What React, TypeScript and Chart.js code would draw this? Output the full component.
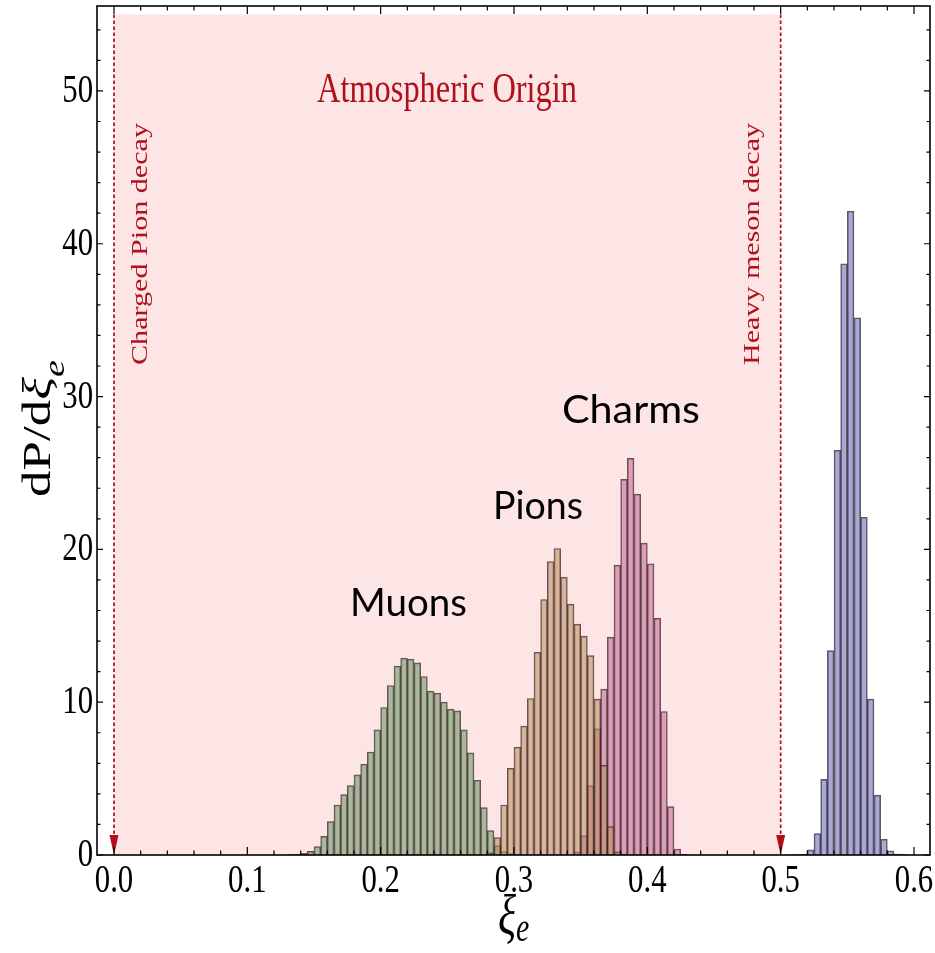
import { useEffect, useRef } from 'react';
import { Chart, registerables } from 'chart.js';

Chart.register(...registerables);

// ---------- data ----------
const BIN_WIDTH = 0.005;

const muonStart = 0.13;
const muonValues = [
  0.03, 0.05, 0.11, 0.24, 0.55, 1.22, 2.18, 3.27, 3.95, 4.54, 5.24, 5.94, 6.74, 8.19,
  9.65, 11.09, 12.36, 12.88, 12.81, 12.57, 11.68, 10.72, 10.59, 10.0, 9.54, 9.43, 8.19,
  6.68, 4.89, 3.1, 1.59, 0.61, 0.22, 0.1, 0.04,
];

const pionStart = 0.28;
const pionValues = [
  0.15, 1.14, 3.27, 5.68, 7.05, 8.43, 10.24, 13.27, 16.72, 19.21, 20.06, 18.18, 16.42,
  15.11, 14.32, 13.05, 10.2, 5.87, 1.86, 0.2, 0.05,
];

const charmStart = 0.345;
const charmValues = [
  0.2, 1.27, 4.54, 8.25, 10.85, 14.26, 18.97, 24.58, 25.96, 23.62, 20.41, 19.06, 15.48,
  9.39, 3.17, 0.39, 0.05,
];

const astroStart = 0.505;
const astroValues = [
  0.01, 0.02, 0.05, 0.34, 1.4, 4.95, 13.37, 26.49, 38.69, 42.13, 35.16, 22.1, 10.21,
  3.92, 1.03, 0.28, 0.06, 0.03,
];

const xTickValues = [0, 0.1, 0.2, 0.3, 0.4, 0.5, 0.6];
const xTickLabels = ['0.0', '0.1', '0.2', '0.3', '0.4', '0.5', '0.6'];
const yTickValues = [0, 10, 20, 30, 40, 50];
const yTickLabels = ['0', '10', '20', '30', '40', '50'];

const X_MIN = -0.01275;
const X_MAX = 0.612;
const Y_MIN = 0;
const Y_MAX = 55.56;

const regionX0 = 0;
const regionX1 = 0.5;
const regionTop = 55;

// ---------- helpers ----------
const toPoints = (start: number, values: number[]) =>
  values.map((v, i) => ({ x: +(start + (i + 0.5) * BIN_WIDTH).toFixed(4), y: v }));

const RED = '#b0101c';
const SERIF = '"Liberation Serif", "Times New Roman", serif';
const SQUEEZE = 0.75;

type Part = { text: string; font: string; dy?: number };

function drawRich(
  ctx: CanvasRenderingContext2D,
  parts: Part[],
  x: number,
  y: number,
  color: string,
  rotated: boolean,
  align: 'left' | 'center' | 'right' = 'left',
  target?: number,
) {
  ctx.save();
  ctx.fillStyle = color;
  ctx.textAlign = 'left';
  ctx.textBaseline = 'alphabetic';
  let total = 0;
  const widths = parts.map((p) => {
    ctx.font = p.font;
    const w = ctx.measureText(p.text).width;
    total += w;
    return w;
  });
  ctx.translate(x, y);
  if (rotated) {
    ctx.rotate(-Math.PI / 2);
    ctx.scale(target ? target / total : 1, SQUEEZE);
  } else {
    ctx.scale(target ? target / total : SQUEEZE, 1);
  }
  let cx = align === 'center' ? -total / 2 : align === 'right' ? -total : 0;
  parts.forEach((p, i) => {
    ctx.font = p.font;
    ctx.fillText(p.text, cx, p.dy || 0);
    cx += widths[i];
  });
  ctx.restore();
}

const decorPlugin = {
  id: 'decor',
  beforeDatasetsDraw(chart: any) {
    const { ctx, scales } = chart;
    const x = scales.x;
    const y = scales.y;
    const l = x.getPixelForValue(regionX0);
    const r = x.getPixelForValue(regionX1);
    const t = y.getPixelForValue(regionTop);
    const b = y.getPixelForValue(0);
    ctx.save();
    ctx.fillStyle = '#fde4e5';
    ctx.fillRect(l, t, r - l, b - t);
    ctx.restore();
  },
  afterDatasetsDraw(chart: any) {
    const { ctx, scales, chartArea } = chart;
    const x = scales.x;
    const y = scales.y;
    const t = y.getPixelForValue(regionTop);
    const b = y.getPixelForValue(0);

    // dashed lines with arrows
    [regionX0, regionX1].forEach((v) => {
      const px = x.getPixelForValue(v);
      ctx.save();
      ctx.strokeStyle = RED;
      ctx.lineWidth = 1.7;
      ctx.setLineDash([3.5, 2.5]);
      ctx.beginPath();
      ctx.moveTo(px, t);
      ctx.lineTo(px, b - 16);
      ctx.stroke();
      ctx.setLineDash([]);
      ctx.fillStyle = RED;
      ctx.beginPath();
      ctx.moveTo(px - 4.5, b - 20);
      ctx.lineTo(px + 4.5, b - 20);
      ctx.lineTo(px, b);
      ctx.closePath();
      ctx.fill();
      ctx.restore();
    });

    // frame
    ctx.save();
    ctx.strokeStyle = '#000';
    ctx.lineWidth = 1.6;
    ctx.strokeRect(chartArea.left, chartArea.top, chartArea.right - chartArea.left, chartArea.bottom - chartArea.top);

    // ticks
    ctx.lineWidth = 1.2;
    ctx.beginPath();
    for (let i = 0; i <= 30; i++) {
      const v = i * 0.02;
      const px = x.getPixelForValue(v);
      const len = i % 5 === 0 ? 8 : 4.5;
      ctx.moveTo(px, chartArea.bottom);
      ctx.lineTo(px, chartArea.bottom - len);
      ctx.moveTo(px, chartArea.top);
      ctx.lineTo(px, chartArea.top + len);
    }
    for (let i = 0; i <= 27; i++) {
      const v = i * 2;
      const py = y.getPixelForValue(v);
      const len = i % 5 === 0 ? 6 : 3.5;
      ctx.moveTo(chartArea.left, py);
      ctx.lineTo(chartArea.left + len, py);
      ctx.moveTo(chartArea.right, py);
      ctx.lineTo(chartArea.right - len, py);
    }
    ctx.stroke();
    ctx.restore();

    // tick labels
    const tickFont = `41px ${SERIF}`;
    xTickValues.forEach((v, i) => {
      drawRich(ctx, [{ text: xTickLabels[i], font: tickFont }], x.getPixelForValue(v), 892, '#000', false, 'center');
    });
    yTickValues.forEach((v, i) => {
      drawRich(ctx, [{ text: yTickLabels[i], font: tickFont }], 93, y.getPixelForValue(v) + 11, '#000', false, 'right');
    });

    // axis titles
    drawRich(
      ctx,
      [
        { text: 'dP/d', font: `53px ${SERIF}` },
        { text: 'ξ', font: `italic 53px ${SERIF}` },
        { text: 'e', font: `italic 38px ${SERIF}`, dy: 18 },
      ],
      50,
      497,
      '#000',
      true,
    );
    drawRich(
      ctx,
      [
        { text: 'ξ', font: `italic 56px ${SERIF}` },
        { text: 'e', font: `italic 40px ${SERIF}`, dy: 7 },
      ],
      498,
      934,
      '#000',
      false,
    );

    // annotations
    drawRich(ctx, [{ text: 'Atmospheric Origin', font: `42px ${SERIF}` }], 317, 102, RED, false, 'left', 260);
    drawRich(ctx, [{ text: 'Charged Pion decay', font: `30px ${SERIF}` }], 147, 365, RED, true, 'left', 242);
    drawRich(ctx, [{ text: 'Heavy meson decay', font: `30px ${SERIF}` }], 759, 365, RED, true, 'left', 242);

    const sans = '39px Lato, "Noto Sans", sans-serif';
    drawRich(ctx, [{ text: 'Charms', font: sans }], 562, 423, '#000', false, 'left', 138);
    drawRich(ctx, [{ text: 'Pions', font: sans }], 493, 519, '#000', false, 'left', 90);
    drawRich(ctx, [{ text: 'Muons', font: sans }], 350, 616, '#000', false, 'left', 117);
  },
};

const EDGE = 'rgba(50,35,40,0.75)';

export default function App() {
  const ref = useRef<HTMLCanvasElement>(null);
  useEffect(() => {
    if (!ref.current) return;
    const common = { grouped: false, barPercentage: 1, categoryPercentage: 1, borderWidth: 1, borderColor: EDGE };
    const chart = new Chart(ref.current, {
      type: 'bar',
      data: {
        datasets: [
          { label: 'Pions', data: toPoints(pionStart, pionValues), backgroundColor: 'rgba(185,140,92,0.55)', order: 0, ...common },
          { label: 'Muons', data: toPoints(muonStart, muonValues), backgroundColor: 'rgba(110,150,100,0.58)', order: 1, ...common },
          { label: 'Charms', data: toPoints(charmStart, charmValues), backgroundColor: 'rgba(192,95,140,0.52)', order: 2, ...common },
          { label: 'Astro', data: toPoints(astroStart, astroValues), backgroundColor: 'rgba(90,92,172,0.52)', order: 3, ...common },
        ] as any,
      },
      options: {
        animation: false,
        responsive: true,
        maintainAspectRatio: false,
        layout: { padding: { left: 97, top: 6, right: 5, bottom: 98 } },
        plugins: { legend: { display: false }, tooltip: { enabled: false } },
        scales: {
          x: { type: 'linear', min: X_MIN, max: X_MAX, offset: false, display: false },
          y: { type: 'linear', min: Y_MIN, max: Y_MAX, display: false },
        },
      } as any,
      plugins: [decorPlugin],
    });
    return () => chart.destroy();
  }, []);
  return (
    <div style={{ position: 'absolute', left: 0, top: 0, width: 935, height: 953, background: '#fff' }}>
      <canvas ref={ref} />
    </div>
  );
}
